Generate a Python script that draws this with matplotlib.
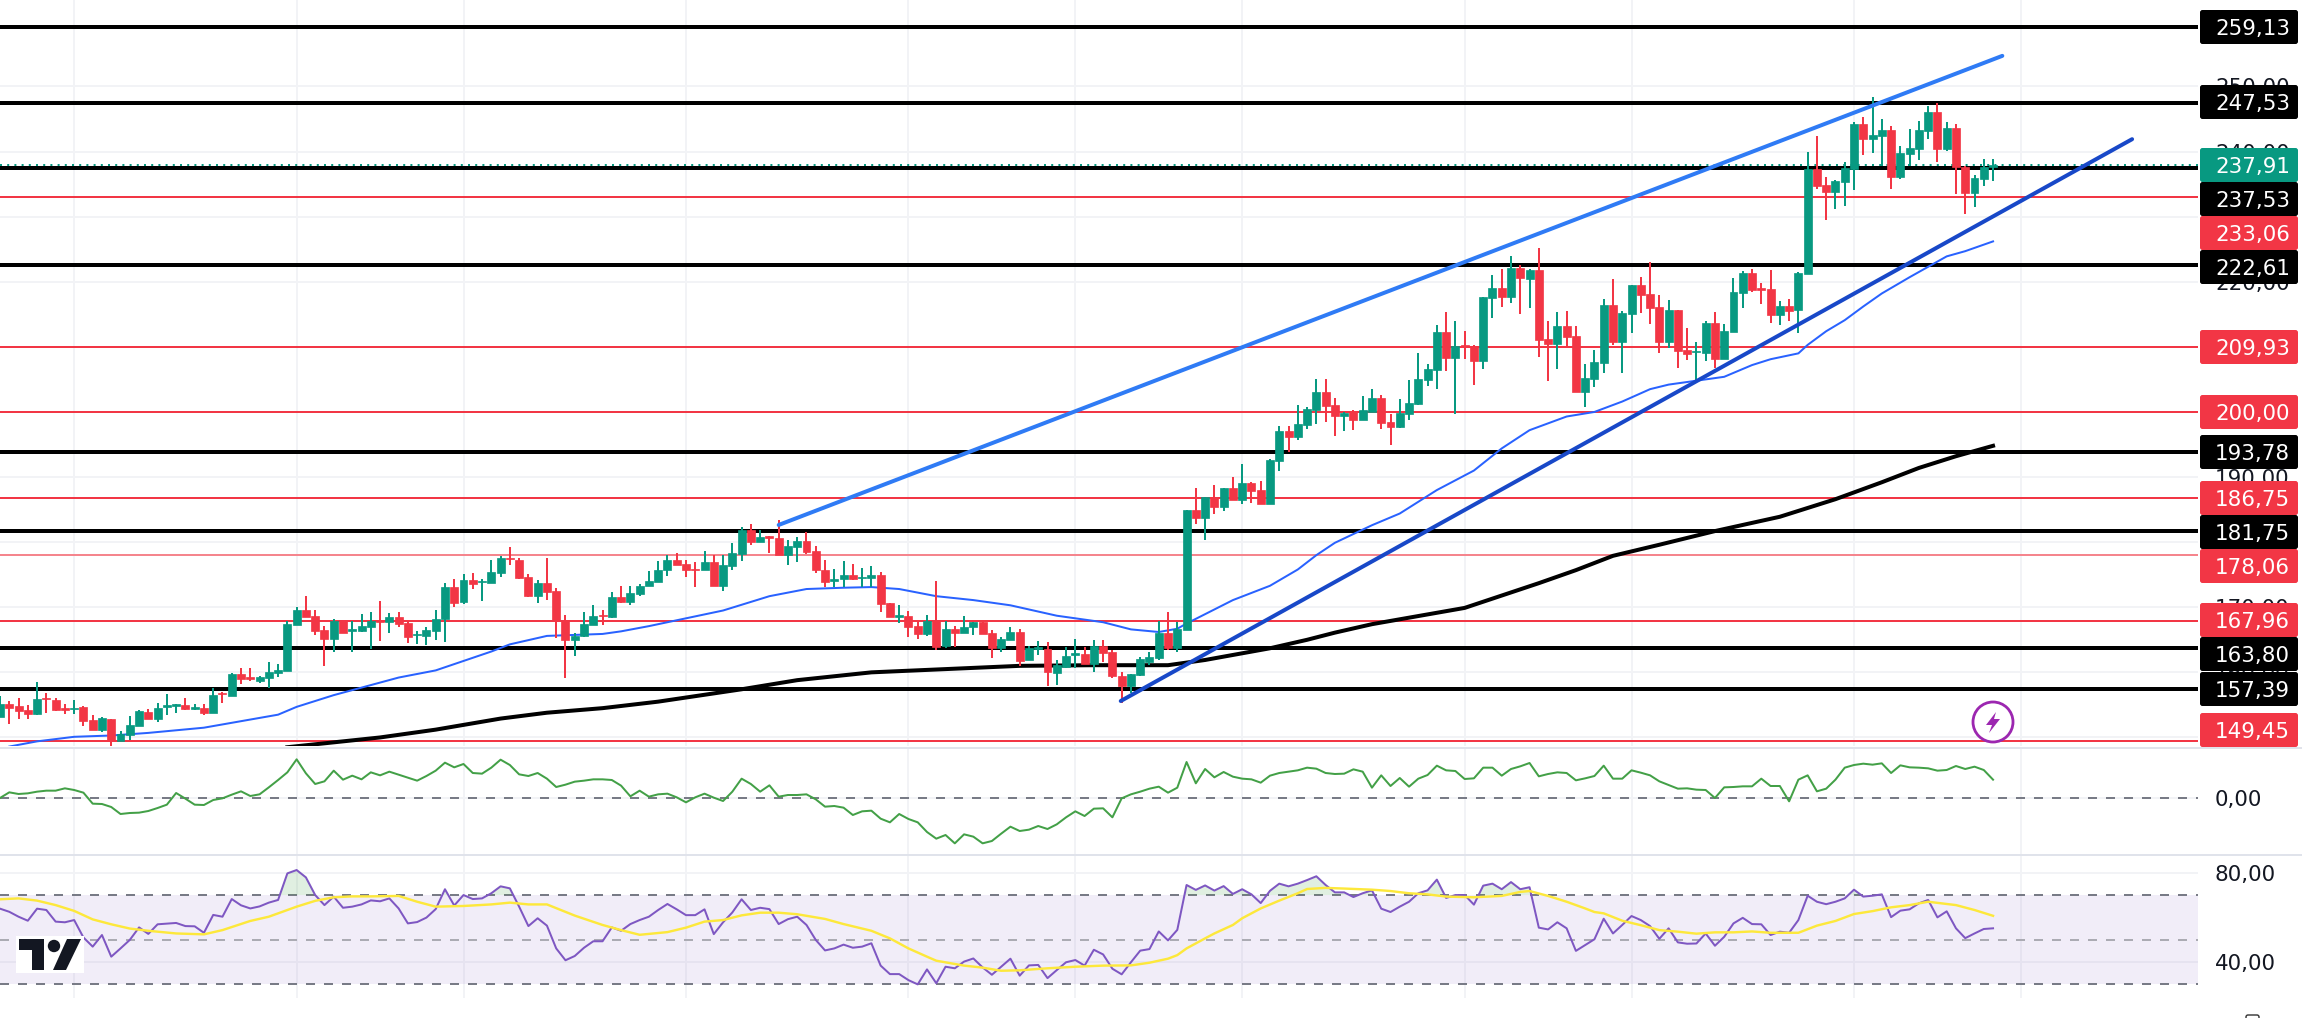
import numpy as np
import matplotlib
matplotlib.use("Agg")
import matplotlib.pyplot as plt
from matplotlib.patches import FancyBboxPatch, Rectangle, Circle, Polygon, Ellipse

W, H = 2302, 1018
plt.rcParams['font.family'] = ['DejaVu Sans']

# ---- price candles (open, high, low, close) ----
opens = [153.2,155.2,154.8,154.2,153.6,156.0,155.8,154.5,154.3,154.7,152.7,151.15,152.9,149.4,150.4,151.8,153.9,152.9,154.7,154.9,
155.0,154.4,154.5,153.8,156.9,156.3,159.75,159.25,158.7,159.15,159.95,160.25,167.3,169.6,168.65,166.5,165.2,167.95,166.4,166.35,
167.0,167.95,167.8,168.45,167.65,165.7,165.6,166.4,168.15,173.05,170.85,174.2,173.85,173.8,175.3,177.6,177.25,174.6,171.75,173.7,
172.5,167.95,164.9,165.6,167.3,168.8,168.5,171.55,170.85,172.05,173.2,173.95,175.75,177.25,176.65,175.85,175.65,176.95,173.3,176.35,
178.2,181.9,180.1,180.95,180.65,178.1,179.3,180.15,178.6,175.75,174.0,174.3,174.95,174.45,174.45,174.9,170.65,168.55,168.65,167.1,
165.9,168.05,164.1,166.65,166.1,166.9,167.75,166.05,163.75,164.95,166.2,161.95,163.6,163.6,159.95,160.85,162.65,162.8,161.35,164.1,
163.1,159.5,157.95,159.6,161.65,162.25,166.0,163.75,166.5,184.95,183.7,186.9,185.45,188.3,186.5,189.1,188.0,185.85,192.45,197.05,
196.15,198.0,200.3,203.05,201.05,199.4,200.0,198.75,200.0,202.15,198.45,197.7,199.7,201.2,204.9,206.45,212.25,208.3,210.3,210.15,
207.8,217.5,219.05,217.65,222.1,220.4,221.8,211.2,210.45,213.2,211.65,203.05,205.05,207.5,216.4,210.75,215.05,219.5,218.1,216.1,
210.8,215.65,209.5,209.15,209.05,213.65,208.15,212.3,218.25,221.35,219.05,218.9,214.9,216.25,215.65,221.2,237.3,234.85,233.8,235.3,
237.3,244.25,241.9,242.4,243.3,236.1,239.6,240.4,243.15,246.1,240.4,243.6,237.6,233.6,235.8,237.6]
highs = [156.4,155.6,156.0,155.0,158.5,156.9,156.0,155.1,155.8,154.8,153.5,153.2,152.9,151.0,153.3,154.2,154.3,155.25,156.7,155.15,
156.1,155.1,155.1,157.55,157.0,159.85,160.6,160.6,159.45,161.55,161.3,167.95,170.1,171.75,169.55,167.1,168.15,168.05,167.95,168.9,
169.2,170.95,169.05,169.2,167.95,166.4,166.9,169.6,173.7,174.35,175.05,175.2,174.3,177.25,177.9,179.25,177.5,175.05,174.2,177.6,
173.0,168.8,166.0,169.2,170.3,169.6,172.3,173.3,173.3,173.6,175.6,177.1,177.95,178.3,177.25,176.9,178.65,178.05,178.05,179.8,
182.3,182.8,181.9,180.95,183.4,180.35,180.75,181.5,179.4,177.25,175.9,177.1,176.65,176.05,176.35,175.4,170.7,170.3,169.35,167.75,
168.8,174.05,167.95,167.1,168.7,167.75,167.8,166.5,165.45,167.0,166.6,164.05,164.75,164.6,161.85,163.85,165.05,163.85,164.9,164.9,
163.4,160.0,159.75,162.4,163.1,167.95,169.2,167.75,185.0,188.3,186.9,188.75,188.3,189.95,192.0,189.2,189.4,192.7,197.85,197.85,
201.05,200.75,205.05,205.05,202.15,200.0,200.3,202.45,203.5,202.6,199.7,202.0,204.9,209.05,207.35,213.35,215.35,213.95,212.45,210.3,
217.65,221.05,221.95,223.95,222.55,221.95,225.2,213.95,215.35,215.5,213.2,207.35,209.5,217.35,220.4,215.5,219.5,220.7,223.05,217.95,
217.2,215.65,212.9,210.75,213.95,215.35,213.5,220.55,221.65,221.95,219.8,221.8,217.05,217.35,221.5,239.9,242.4,236.1,235.6,238.4,
244.55,245.3,248.4,245.0,243.9,240.85,243.45,244.7,247.0,247.45,244.55,244.25,237.8,236.4,238.85,238.85]
lows = [153.2,152.1,152.9,152.9,153.5,153.7,154.1,153.6,153.6,151.7,151.15,150.9,148.6,149.4,149.6,151.8,152.9,152.3,153.5,153.8,
154.2,154.2,153.5,153.8,155.35,156.3,158.2,158.7,158.4,157.65,159.35,160.25,167.3,168.55,165.75,161.05,163.2,166.1,163.05,166.25,
163.6,164.85,166.1,166.9,164.55,164.35,164.2,165.0,164.7,170.1,170.5,172.85,171.0,173.8,174.7,176.5,174.35,171.5,170.7,171.1,
165.25,159.2,162.55,165.5,167.3,167.3,168.35,170.7,170.35,171.75,173.2,173.95,174.85,176.55,174.65,173.1,175.65,173.3,172.55,175.75,
177.1,179.6,180.1,178.4,178.1,176.55,177.0,178.2,175.3,173.1,173.1,173.1,174.2,173.1,173.1,169.3,168.55,167.65,165.45,165.2,
165.65,163.45,163.8,163.95,166.1,165.75,165.95,162.25,163.05,164.95,160.9,161.95,162.7,157.95,158.1,160.6,160.6,161.35,160.1,161.65,
159.2,155.25,156.9,159.5,161.15,161.95,163.45,163.2,166.5,182.8,180.3,184.3,184.85,186.5,185.85,186.05,185.85,185.85,190.9,193.85,
195.7,197.4,198.15,198.45,196.3,197.1,197.2,198.75,200.0,197.4,194.9,197.55,198.75,201.05,204.0,203.5,206.3,199.7,208.15,204.15,
206.6,214.45,216.1,216.75,215.05,215.95,208.45,204.75,206.6,210.0,203.05,200.75,203.8,206.0,210.3,206.0,212.1,215.2,213.5,209.05,
209.9,206.75,208.0,204.5,207.8,206.75,208.15,212.3,215.95,218.4,216.6,213.65,213.35,213.95,212.15,221.2,234.25,229.5,231.2,231.65,
234.1,239.45,239.8,237.8,234.25,235.8,237.8,238.7,241.9,238.4,240.1,233.5,230.4,231.5,234.7,235.5]
closes = [155.2,154.6,154.1,153.6,155.9,155.9,154.2,154.2,154.6,152.6,151.15,153.0,149.5,150.5,151.9,154.0,152.9,154.6,155.0,155.1,
154.4,154.7,153.8,156.5,156.7,159.75,159.0,159.0,159.25,160.05,160.35,167.45,169.55,168.55,166.4,165.2,167.95,166.1,166.6,167.1,
167.95,167.8,168.5,167.5,165.5,165.85,166.5,168.15,173.05,170.7,174.2,173.5,174.1,175.4,177.5,177.4,174.5,171.75,173.7,172.4,
168.05,164.9,165.65,167.45,168.65,168.6,171.55,170.85,172.15,173.3,174.05,175.75,177.25,176.55,175.65,175.7,176.95,173.3,176.5,178.35,
181.9,180.1,180.75,180.7,178.1,179.4,180.2,178.55,175.65,173.9,174.3,174.9,174.3,174.65,174.9,170.5,168.55,168.8,167.0,165.9,
167.95,163.95,166.65,166.1,166.95,167.75,165.95,163.75,165.15,166.2,161.75,163.7,163.85,160.0,161.1,162.5,162.95,161.35,164.1,163.0,
159.5,157.95,159.75,162.0,162.35,166.0,163.75,166.65,184.95,183.7,186.9,185.45,188.3,186.5,189.1,187.85,185.85,192.6,197.05,196.15,
198.15,200.45,203.05,200.9,199.4,199.85,198.75,200.3,202.15,198.3,197.7,199.85,201.35,205.05,206.6,212.25,208.3,210.15,210.0,207.8,
217.65,219.05,217.65,222.1,220.55,221.8,211.05,210.45,213.2,211.5,203.05,205.2,207.65,216.4,210.75,215.2,219.5,217.95,215.95,210.8,
215.65,209.35,208.9,209.35,213.65,208.15,212.45,218.4,221.35,218.75,218.75,214.9,216.25,215.5,221.35,237.3,234.7,233.8,235.45,237.45,
244.25,241.9,242.55,243.3,236.1,239.8,240.55,243.3,246.1,240.4,243.6,237.6,233.6,235.95,237.6,237.95]

# ---- moving averages: candle index and price ----
ma50_idx = [1,4,8,12,16,22,26,30,32,36,43,47,53,55,59,65,67,70,73,78,83,87,91,94,97,101,105,109,114,119,122,125,127,128,133,137,140,142,144,148,151,155,159,162,165,169,172,175,178,180,183,186,189,191,194,195,197,199,201,203,206,208,210,212,215]
ma50_val = [148.6,149.4,150.1,150.3,150.7,151.5,152.5,153.5,154.7,156.5,159.2,160.3,163.2,164.3,165.6,165.9,166.3,167.1,168.0,169.5,171.7,172.8,173.0,173.1,172.8,171.7,171.1,170.3,168.7,167.7,166.6,166.2,166.7,167.5,171.1,173.3,175.8,178.0,179.9,182.6,184.4,188.0,191.0,194.4,197.2,199.3,200.0,201.6,203.5,204.2,204.8,205.4,207.2,208.1,209.0,210.3,212.4,214.1,216.2,218.2,220.7,222.3,223.9,224.7,226.2]
ma200_idx = [31,37,41,47,54,59,65,71,80,86,94,102,110,118,126,130,137,141,144,148,158,166,170,174,179,185,192,198,203,207,211,215]
ma200_val = [148.5,149.4,150.0,151.2,152.9,153.8,154.5,155.5,157.4,158.8,160.0,160.5,161.0,161.1,161.1,161.9,163.7,165.0,166.1,167.4,169.9,173.7,175.7,177.9,179.6,181.7,183.9,186.6,189.2,191.4,193.2,194.8]

# ---- drawn horizontal levels ----
black_levels = [259.13,247.53,237.53,222.61,193.78,181.75,163.80,157.39]
red_levels = [233.06,209.93,200.00,186.75,167.96,149.45]
pink_levels = [178.06]
last_price = 237.91

# ---- trend lines (candle index, price) ----
upper_idx = [84,216]
upper_val = [182.64,254.7]
lower_idx = [120.9,230]
lower_val = [155.6,241.9]

# ---- momentum pane ----
mom = [0.0,0.17,0.12,0.14,0.19,0.22,0.22,0.29,0.24,0.16,-0.17,-0.18,-0.27,-0.48,-0.45,-0.44,-0.39,-0.30,-0.20,0.15,-0.02,-0.20,-0.21,-0.06,-0.01,0.10,0.20,0.06,0.11,0.32,0.54,0.77,1.16,0.74,0.42,0.50,0.82,0.55,0.67,0.56,0.77,0.68,0.79,0.70,0.61,0.52,0.66,0.82,1.06,0.92,1.02,0.75,0.73,0.91,1.15,0.99,0.71,0.66,0.75,0.58,0.33,0.40,0.49,0.52,0.56,0.56,0.54,0.37,0.05,0.22,0.04,0.11,0.13,0.02,-0.13,0.02,0.13,0.01,-0.09,0.19,0.58,0.42,0.19,0.38,0.04,0.09,0.09,
0.11,-0.04,-0.26,-0.24,-0.29,-0.51,-0.40,-0.38,-0.62,-0.73,-0.48,-0.63,-0.73,-1.02,-1.22,-1.11,-1.36,-1.09,-1.16,-1.36,-1.29,-1.07,-0.86,-0.99,-0.95,-0.84,-0.93,-0.79,-0.58,-0.40,-0.54,-0.32,-0.31,-0.58,-0.01,0.11,0.19,0.28,0.34,0.16,0.31,1.08,0.44,0.87,0.62,0.78,0.64,0.58,0.56,0.46,0.67,0.75,0.79,0.83,0.91,0.88,0.75,0.72,0.73,0.86,0.79,0.31,0.68,0.36,0.60,0.34,0.58,0.69,0.97,0.83,0.81,0.57,0.59,0.91,0.91,0.67,0.87,0.95,1.05,0.65,0.72,0.77,0.75,0.53,0.59,0.66,
0.97,0.58,0.58,0.83,0.76,0.68,0.50,0.39,0.28,0.29,0.25,0.24,0.0,0.32,0.33,0.35,0.35,0.58,0.36,0.36,-0.10,0.55,0.68,0.20,0.28,0.55,0.91,0.99,1.03,1.00,1.04,0.75,0.98,0.92,0.91,0.89,0.82,0.84,0.96,0.87,0.94,0.84,0.55]

# ---- RSI pane ----
rsi = [63.9,62.5,60.3,58.5,63.9,63.3,58.1,57.8,58.8,51.0,46.9,52.1,42.4,46.1,49.9,55.5,52.6,56.9,57.2,57.5,56.1,56.0,53.1,61.1,60.3,68.2,65.4,64.0,64.9,66.6,67.8,79.7,81.2,77.9,70.0,65.5,69.3,64.3,64.8,65.8,67.6,67.2,68.5,64.0,57.3,57.9,59.9,63.7,72.6,65.3,70.0,68.2,68.5,70.8,73.9,73.0,64.8,56.1,59.6,56.3,46.1,40.8,42.7,46.4,49.3,49.3,55.5,54.0,57.0,58.8,60.3,63.3,66.0,63.6,61.0,61.0,63.6,52.5,57.8,62.2,68.1,63.3,64.3,63.7,57.0,59.2,60.3,
56.6,49.9,45.2,46.1,47.8,46.4,46.9,48.4,38.4,34.6,34.6,31.9,30.0,36.7,30.5,37.9,37.2,40.2,41.6,37.6,34.3,37.9,41.5,33.9,38.5,38.7,32.8,36.4,39.9,40.9,38.4,45.5,43.4,37.0,34.5,39.9,45.1,45.8,53.7,49.7,54.4,74.5,72.3,74.3,72.0,74.0,70.5,72.6,70.3,66.4,71.9,75.1,73.9,75.1,76.7,78.4,74.5,71.2,71.2,69.1,70.8,72.1,63.9,62.4,64.8,67.0,70.8,72.1,76.9,68.7,70.0,70.0,65.7,74.2,75.1,72.6,75.8,72.6,73.5,55.4,54.6,57.8,55.1,45.0,47.6,50.2,
59.4,52.8,56.6,60.6,58.8,56.1,50.4,55.1,48.8,48.2,48.3,52.8,47.3,51.3,57.3,59.8,57.0,56.9,52.1,53.6,53.1,58.8,69.7,67.0,65.9,67.0,68.5,72.4,69.3,69.7,70.3,60.1,63.0,63.6,66.3,67.8,60.0,62.7,55.1,50.7,52.8,54.8,55.1]

sma_idx = [0,2,4,6,8,10,12,14,16,19,22,24,27,29,32,34,36,38,40,43,45,47,50,53,55,57,59,62,65,67,69,72,74,76,78,80,82,84,86,89,91,94,96,98,100,101,104,106,108,110,113,116,119,122,124,126,127,128,130,131,133,134,136,138,140,141,143,145,148,150,152,154,156,159,162,164,165,167,169,171,172,173,175,177,179,181,183,185,187,189,191,194,196,198,200,202,204,206,208,211,213,215]
sma_val = [68.1,68.5,67.5,65.5,62.9,59.1,56.9,55.0,54.0,52.8,52.4,54.3,58.4,60.3,64.8,67.4,69.0,69.4,69.4,69.6,67.0,64.8,65.1,65.8,66.6,65.8,65.8,60.8,56.6,54.3,52.2,53.4,55.4,58.1,58.8,60.9,62.1,62.1,61.4,59.3,57.0,54.0,50.6,46.1,42.4,40.6,38.4,37.5,36.1,36.3,37.2,37.9,38.4,38.5,39.7,41.5,43.1,46.1,50.6,52.8,56.6,59.6,64.0,67.5,70.8,72.7,73.2,72.9,72.4,71.8,70.8,70.3,69.3,69.0,69.6,71.4,71.8,69.6,67.0,64.0,62.4,61.8,58.5,56.5,54.3,53.6,52.7,53.3,53.3,53.7,53.1,53.1,56.3,58.4,61.5,62.8,64.5,65.5,67.0,65.5,63.3,60.7]

# ---- axis ticks and right-hand labels ----
price_ticks = [150,160,170,180,190,200,210,220,230,240,250]
rsi_ticks = [40,80]
v_grid = [8,32,50,74,98,116,134,158,176,200,218]

level_tags = ["259,13","247,53","237,91","237,53","233,06","222,61","209,93","200,00","193,78","186,75","181,75","178,06","167,96","163,80","157,39","149,45"]
tag_kinds = ["k","k","g","k","r","k","r","r","k","r","k","r","r","k","k","r"]
tag_centres = [27,102,165,199,233,267,347,412,452,498,532,566,620,654,689,730]

RED = '#F23645'
GREEN = '#089981'
GRID = '#F2F3F6'
SEP = '#E0E3EB'
DASH = '#787B86'
TEXT = '#131722'
PX = 0.72   # one pixel in points at 100 dpi
LABEL_SIZE = 15.4

fig = plt.figure(figsize=(W / 100, H / 100), dpi=100, facecolor='white')

def pane(top, bottom):
    a = fig.add_axes([0, 1 - bottom / H, 2198 / W, (bottom - top) / H])
    for s in a.spines.values():
        s.set_visible(False)
    a.set_xlim(0, 2198 / 9.27)
    a.set_xticks(v_grid)
    a.tick_params(axis='x', length=0, labelbottom=False)
    a.grid(True, axis='both', color=GRID, lw=2 * PX)
    a.set_axisbelow(True)
    a.yaxis.tick_right()
    a.tick_params(axis='y', length=0, pad=17 * PX, labelsize=LABEL_SIZE, labelcolor=TEXT)
    return a

ax = pane(0, 746)
ax.set_ylim(263.28 - 746 / 6.51, 263.28)
ax.set_yticks(price_ticks)
ax.set_yticklabels([f"{t},00" for t in price_ticks])

ax2 = pane(749, 854)
ax2.set_ylim(-1.68, 1.47)
ax2.set_yticks([0])
ax2.set_yticklabels(["0,00"])

ax3 = pane(856, 998)
ax3.set_ylim(23.9, 87.48)
ax3.set_yticks(rsi_ticks)
ax3.set_yticklabels([f"{t},00" for t in rsi_ticks])

# levels sit behind the candles
for v in black_levels:
    ax.axhline(v, color='black', lw=4 * PX, zorder=2)
for v in red_levels:
    ax.axhline(v, color=RED, lw=2 * PX, zorder=2)
for v in pink_levels:
    ax.axhline(v, color='#F5858D', lw=2 * PX, zorder=2)
ax.axhline(last_price, color=GREEN, lw=2 * PX, ls=(0, (1, 2.6)), zorder=2.5)

# moving averages behind the candles too
ax.plot(ma200_idx, ma200_val, color='black', lw=4 * PX, zorder=3)
ax.plot(ma50_idx, ma50_val, color='#2962FF', lw=2 * PX, zorder=3)

# candles
o, h, l, c = map(np.array, (opens, highs, lows, closes))
x = np.arange(len(o))
cols = np.where(c >= o, GREEN, RED)
ax.vlines(x, l, h, colors=cols, lw=2 * PX, zorder=4)
ax.bar(x, np.abs(c - o), bottom=np.minimum(o, c), width=0.86, color=cols,
       edgecolor=cols, linewidth=0.5, zorder=4)

# trend lines
ax.plot(upper_idx, upper_val, color='#2F7BF5', lw=4 * PX, zorder=6, solid_capstyle='round')
ax.plot(lower_idx, lower_val, color='#1848C8', lw=4 * PX, zorder=6, solid_capstyle='round')

# momentum pane
ax2.axhline(0, color=DASH, lw=2 * PX, ls=(0, (4.5, 4.5)), zorder=2)
ax2.plot(np.arange(len(mom)), mom, color='#43A047', lw=2 * PX, zorder=3)

# RSI pane
ax3.axhspan(30, 70, color='#7E57C2', alpha=0.1, lw=0, zorder=1)
ax3.axhline(70, color=DASH, lw=2 * PX, ls=(0, (4.5, 4.5)), zorder=2)
ax3.axhline(30, color=DASH, lw=2 * PX, ls=(0, (4.5, 4.5)), zorder=2)
ax3.axhline(50, color='#ABABB3', lw=2 * PX, ls=(0, (4.5, 4.5)), zorder=2)
r = np.array(rsi)
xr = np.arange(len(r))
ax3.fill_between(xr, 70, r, where=r > 70, interpolate=True, color='#43A047', alpha=0.16, lw=0, zorder=2)
ax3.plot(xr, r, color='#7E57C2', lw=2 * PX, zorder=3)
ax3.plot(sma_idx, sma_val, color='#FDE83B', lw=2.4 * PX, zorder=4)

# overlay in pixel coordinates for separators, tags, logo and badge
ov = fig.add_axes([0, 0, 1, 1], zorder=20)
ov.set_xlim(0, W)
ov.set_ylim(H, 0)
ov.axis('off')
ov.patch.set_alpha(0)
ov.add_patch(Rectangle((0, 746.5), W, 2.5, color=SEP, lw=0))
ov.add_patch(Rectangle((0, 854), W, 2, color=SEP, lw=0))

fills = {'k': 'black', 'g': GREEN, 'r': RED}
for text, kind, cy in zip(level_tags, tag_kinds, tag_centres):
    ov.add_patch(FancyBboxPatch((2200, cy - 17), 98, 34,
                 boxstyle="round,pad=0,rounding_size=2.5", mutation_aspect=1,
                 fc=fills[kind], ec='none'))
    ov.text(2215, cy, text, color='white', fontsize=LABEL_SIZE, va='center_baseline', ha='left')

# TradingView mark
ov.add_patch(Rectangle((16, 936), 68, 37, fc='white', ec='none'))
ink = '#131722'
ov.add_patch(Polygon([(19, 939), (44, 939), (44, 970), (32, 970), (32, 950), (19, 950)], fc=ink, ec='none'))
ov.add_patch(Circle((54, 946), 6.2, fc=ink, ec='none'))
ov.add_patch(Polygon([(67, 939), (81, 939), (66, 970), (53, 970)], fc=ink, ec='none'))

# news badge
ov.add_patch(Ellipse((1993, 722), 40, 40, fc='white', ec='#9C27B0', lw=2.8 * PX))
ov.add_patch(Polygon([(1996, 712), (1986, 725), (1992, 725), (1989, 733), (2000, 719), (1994, 719)],
                     fc='#9C27B0', ec='none'))
# small control at the lower right
ov.add_patch(FancyBboxPatch((2246, 1015), 13, 8, boxstyle="round,pad=0,rounding_size=2",
                            fc='white', ec='#333333', lw=1.4 * PX, clip_on=True))

fig.savefig('out.png', dpi=100, facecolor='white')
